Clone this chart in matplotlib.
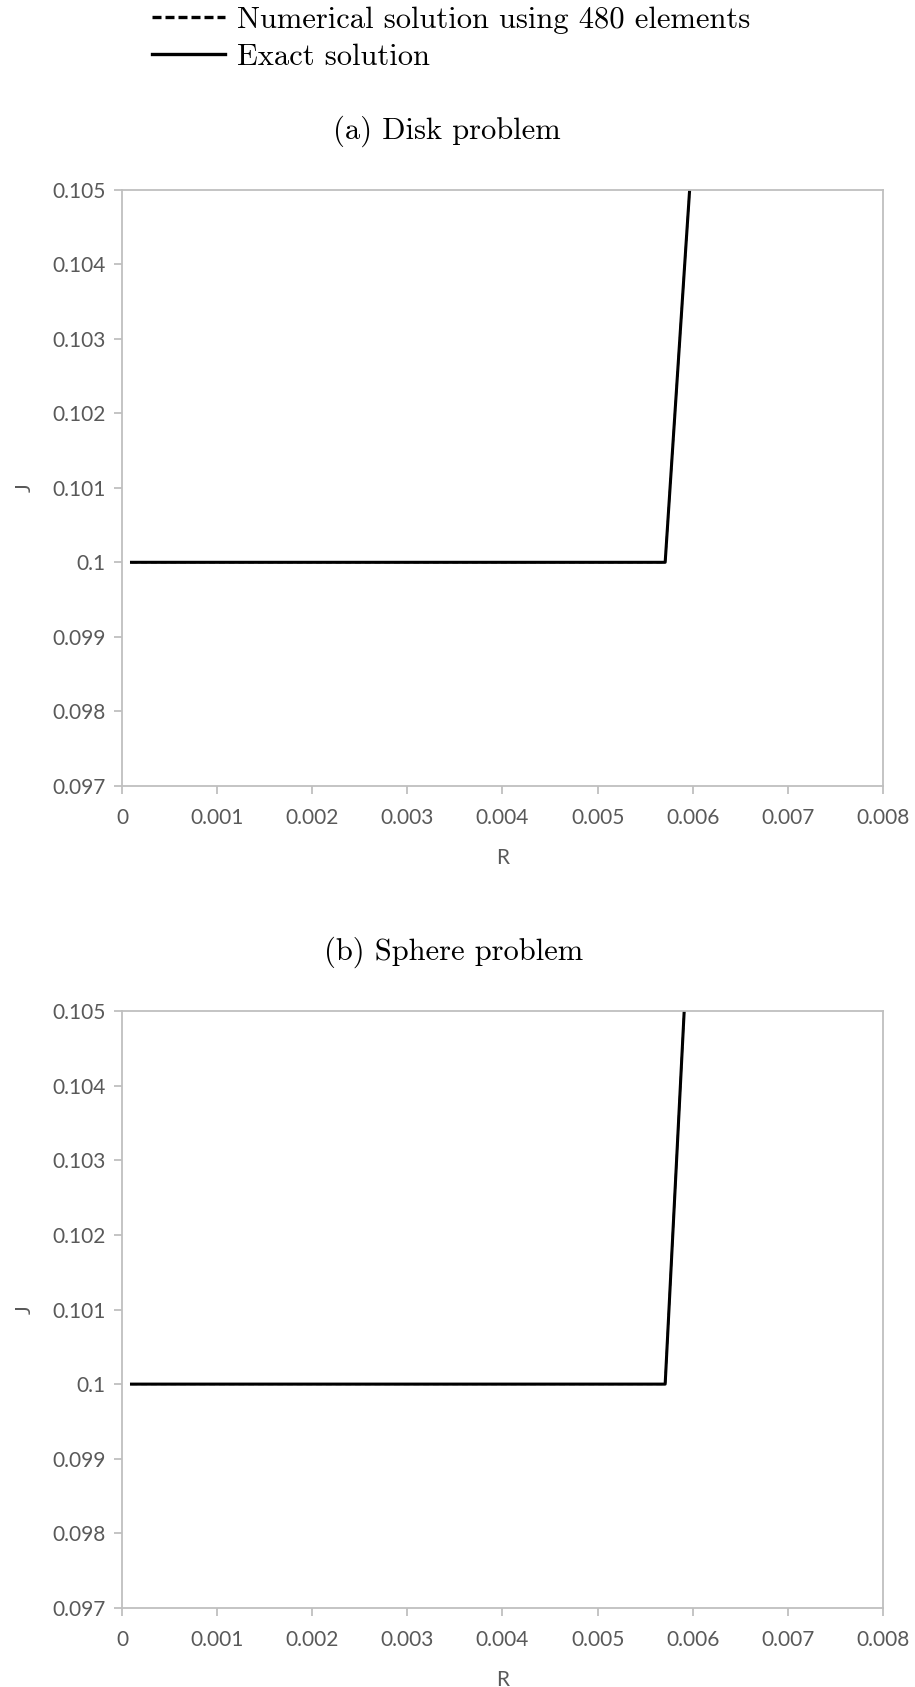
import matplotlib
matplotlib.use("Agg")
import matplotlib.pyplot as plt
from matplotlib.lines import Line2D

# radial position R and current density J along the profile
disk_R = [0.0001, 0.00571, 0.00593, 0.00615]
disk_J = [0.1, 0.1, 0.10428, 0.1085]
sphere_R = [0.0001, 0.00571, 0.00591, 0.0060]
sphere_J = [0.1, 0.1, 0.105, 0.10725]

x_ticks = [0, 0.001, 0.002, 0.003, 0.004, 0.005, 0.006, 0.007, 0.008]
x_labels = ["0", "0.001", "0.002", "0.003", "0.004", "0.005", "0.006", "0.007", "0.008"]
y_ticks = [0.097, 0.098, 0.099, 0.1, 0.101, 0.102, 0.103, 0.104, 0.105]
y_labels = ["0.097", "0.098", "0.099", "0.1", "0.101", "0.102", "0.103", "0.104", "0.105"]

W, H = 915, 1687
fig = plt.figure(figsize=(W / 100, H / 100), dpi=100)

grey = "#BFBFBF"
txt = "#595959"
tick_font = "Lato"
tex_font = "cmr10"


def make_axes(top, bottom, R, J):
    ax = fig.add_axes([122 / W, 1 - bottom / H, 761 / W, (bottom - top) / H])
    ax.plot(R, J, color="black", lw=1.4, ls=(0, (3, 2)))
    ax.plot(R, J, color="black", lw=2.2)
    ax.set_xlim(0, 0.008)
    ax.set_ylim(0.097, 0.105)
    ax.set_xticks(x_ticks)
    ax.set_xticklabels(x_labels)
    ax.set_yticks(y_ticks)
    ax.set_yticklabels(y_labels)
    for s in ax.spines.values():
        s.set_color(grey)
        s.set_linewidth(1.3)
    ax.tick_params(axis="both", colors=grey, length=6, width=1.3,
                   labelcolor=txt, labelsize=15)
    ax.tick_params(axis="x", pad=10)
    ax.tick_params(axis="y", pad=6)
    for lab in ax.get_xticklabels() + ax.get_yticklabels():
        lab.set_fontfamily(tick_font)
    ax.set_xlabel("R", fontfamily=tick_font, fontsize=15, color=txt)
    ax.set_ylabel("J", fontfamily=tick_font, fontsize=15, color=txt)
    h = bottom - top
    ax.xaxis.set_label_coords(0.5, -62 / h)
    ax.yaxis.set_label_coords(-87 / 761, 0.5)
    return ax


ax_a = make_axes(189.5, 786, disk_R, disk_J)
ax_b = make_axes(1011, 1608, sphere_R, sphere_J)

fig.text(447 / W, 1 - 131 / H, "(a) Disk problem", fontfamily=tex_font,
         fontsize=22, ha="center", va="center")
fig.text(454 / W, 1 - 952 / H, "(b) Sphere problem", fontfamily=tex_font,
         fontsize=22, ha="center", va="center")

handles = [
    Line2D([], [], color="black", lw=2.4, ls=(0, (2.7, 1.2))),
    Line2D([], [], color="black", lw=2.4),
]
labels = ["Numerical solution using 480 elements", "Exact solution"]
fig.legend(handles, labels, loc="upper left", bbox_to_anchor=(124 / W, 1 + 21 / H),
           frameon=False, handlelength=2.4, handletextpad=0.4, labelspacing=0.3,
           prop={"family": tex_font, "size": 22})

fig.savefig("out.png", dpi=100)
